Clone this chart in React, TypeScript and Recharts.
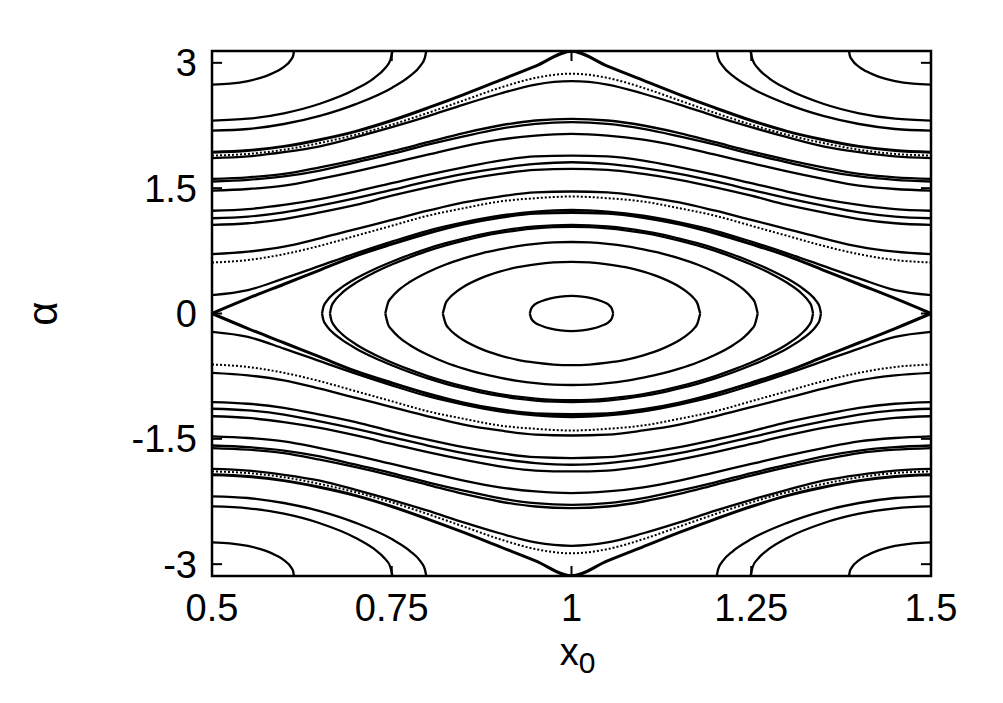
import React from "react";
import { LineChart, Line, XAxis, YAxis, ReferenceArea, ReferenceLine, Label } from "recharts";

// x0 grid shared by the open (rotating) curves
const xGrid = [0.5, 0.55, 0.6, 0.65, 0.7, 0.75, 0.8, 0.85, 0.9, 0.95, 1, 1.05, 1.1, 1.15, 1.2, 1.25, 1.3, 1.35, 1.4, 1.45, 1.5];

// alpha of each open curve, upper half
const upperCurves = [
  [0, 0.18, 0.35, 0.52, 0.69, 0.83, 0.96, 1.07, 1.15, 1.2, 1.21, 1.2, 1.15, 1.07, 0.96, 0.83, 0.69, 0.52, 0.35, 0.18, 0],
  [0.22, 0.28, 0.42, 0.57, 0.72, 0.86, 0.99, 1.09, 1.17, 1.22, 1.24, 1.22, 1.17, 1.09, 0.99, 0.86, 0.72, 0.57, 0.42, 0.28, 0.22],
  [0.61, 0.64, 0.71, 0.81, 0.93, 1.05, 1.17, 1.26, 1.34, 1.38, 1.4, 1.38, 1.34, 1.26, 1.17, 1.05, 0.93, 0.81, 0.71, 0.64, 0.61],
  [0.71, 0.74, 0.8, 0.9, 1.01, 1.12, 1.23, 1.33, 1.4, 1.45, 1.46, 1.45, 1.4, 1.33, 1.23, 1.12, 1.01, 0.9, 0.8, 0.74, 0.71],
  [1.06, 1.08, 1.13, 1.21, 1.3, 1.41, 1.51, 1.6, 1.67, 1.72, 1.73, 1.72, 1.67, 1.6, 1.51, 1.41, 1.3, 1.21, 1.13, 1.08, 1.06],
  [1.14, 1.16, 1.21, 1.29, 1.38, 1.48, 1.58, 1.67, 1.74, 1.79, 1.81, 1.79, 1.74, 1.67, 1.58, 1.48, 1.38, 1.29, 1.21, 1.16, 1.14],
  [1.23, 1.25, 1.3, 1.37, 1.46, 1.56, 1.66, 1.75, 1.83, 1.88, 1.89, 1.88, 1.83, 1.75, 1.66, 1.56, 1.46, 1.37, 1.3, 1.25, 1.23],
  [1.47, 1.49, 1.53, 1.61, 1.7, 1.8, 1.9, 2.0, 2.08, 2.13, 2.15, 2.13, 2.08, 2.0, 1.9, 1.8, 1.7, 1.61, 1.53, 1.49, 1.47],
  [1.58, 1.6, 1.64, 1.71, 1.81, 1.91, 2.02, 2.12, 2.21, 2.27, 2.29, 2.27, 2.21, 2.12, 2.02, 1.91, 1.81, 1.71, 1.64, 1.6, 1.58],
  [1.61, 1.63, 1.67, 1.75, 1.84, 1.94, 2.05, 2.16, 2.25, 2.31, 2.33, 2.31, 2.25, 2.16, 2.05, 1.94, 1.84, 1.75, 1.67, 1.63, 1.61],
  [1.86, 1.88, 1.93, 2.0, 2.11, 2.23, 2.36, 2.5, 2.63, 2.74, 2.78, 2.74, 2.63, 2.5, 2.36, 2.23, 2.11, 2.0, 1.93, 1.88, 1.86],
  [1.89, 1.91, 1.96, 2.04, 2.14, 2.26, 2.4, 2.55, 2.7, 2.82, 2.87, 2.82, 2.7, 2.55, 2.4, 2.26, 2.14, 2.04, 1.96, 1.91, 1.89],
  [1.93, 1.95, 2.0, 2.08, 2.18, 2.31, 2.46, 2.62, 2.79, 2.96, 3.14, 2.96, 2.79, 2.62, 2.46, 2.31, 2.18, 2.08, 2.0, 1.95, 1.93],
];

// same curves, lower half
const lowerCurves = [
  [0, -0.18, -0.35, -0.52, -0.69, -0.83, -0.96, -1.07, -1.15, -1.2, -1.21, -1.2, -1.15, -1.07, -0.96, -0.83, -0.69, -0.52, -0.35, -0.18, 0],
  [-0.22, -0.28, -0.42, -0.57, -0.72, -0.86, -0.99, -1.09, -1.17, -1.22, -1.24, -1.22, -1.17, -1.09, -0.99, -0.86, -0.72, -0.57, -0.42, -0.28, -0.22],
  [-0.61, -0.64, -0.71, -0.81, -0.93, -1.05, -1.17, -1.26, -1.34, -1.38, -1.4, -1.38, -1.34, -1.26, -1.17, -1.05, -0.93, -0.81, -0.71, -0.64, -0.61],
  [-0.71, -0.74, -0.8, -0.9, -1.01, -1.12, -1.23, -1.33, -1.4, -1.45, -1.46, -1.45, -1.4, -1.33, -1.23, -1.12, -1.01, -0.9, -0.8, -0.74, -0.71],
  [-1.06, -1.08, -1.13, -1.21, -1.3, -1.41, -1.51, -1.6, -1.67, -1.72, -1.73, -1.72, -1.67, -1.6, -1.51, -1.41, -1.3, -1.21, -1.13, -1.08, -1.06],
  [-1.14, -1.16, -1.21, -1.29, -1.38, -1.48, -1.58, -1.67, -1.74, -1.79, -1.81, -1.79, -1.74, -1.67, -1.58, -1.48, -1.38, -1.29, -1.21, -1.16, -1.14],
  [-1.23, -1.25, -1.3, -1.37, -1.46, -1.56, -1.66, -1.75, -1.83, -1.88, -1.89, -1.88, -1.83, -1.75, -1.66, -1.56, -1.46, -1.37, -1.3, -1.25, -1.23],
  [-1.47, -1.49, -1.53, -1.61, -1.7, -1.8, -1.9, -2.0, -2.08, -2.13, -2.15, -2.13, -2.08, -2.0, -1.9, -1.8, -1.7, -1.61, -1.53, -1.49, -1.47],
  [-1.58, -1.6, -1.64, -1.71, -1.81, -1.91, -2.02, -2.12, -2.21, -2.27, -2.29, -2.27, -2.21, -2.12, -2.02, -1.91, -1.81, -1.71, -1.64, -1.6, -1.58],
  [-1.61, -1.63, -1.67, -1.75, -1.84, -1.94, -2.05, -2.16, -2.25, -2.31, -2.33, -2.31, -2.25, -2.16, -2.05, -1.94, -1.84, -1.75, -1.67, -1.63, -1.61],
  [-1.86, -1.88, -1.93, -2.0, -2.11, -2.23, -2.36, -2.5, -2.63, -2.74, -2.78, -2.74, -2.63, -2.5, -2.36, -2.23, -2.11, -2.0, -1.93, -1.88, -1.86],
  [-1.89, -1.91, -1.96, -2.04, -2.14, -2.26, -2.4, -2.55, -2.7, -2.82, -2.87, -2.82, -2.7, -2.55, -2.4, -2.26, -2.14, -2.04, -1.96, -1.91, -1.89],
  [-1.93, -1.95, -2.0, -2.08, -2.18, -2.31, -2.46, -2.62, -2.79, -2.96, -3.14, -2.96, -2.79, -2.62, -2.46, -2.31, -2.18, -2.08, -2.0, -1.95, -1.93],
];

const dottedRows = [2, 11];
const boldRows = [0, 12];

// closed orbits around (1, 0): x0 values and upper / lower alpha
const ringAx = [0.942, 0.944, 0.949, 0.959, 0.971, 0.985, 1, 1.015, 1.029, 1.041, 1.051, 1.056, 1.058];
const ringAup = [0, 0.06, 0.108, 0.149, 0.182, 0.203, 0.21, 0.203, 0.182, 0.149, 0.108, 0.06, 0];
const ringAlow = [0, -0.06, -0.108, -0.149, -0.182, -0.203, -0.21, -0.203, -0.182, -0.149, -0.108, -0.06, 0];

const ringBx = [0.821, 0.825, 0.83, 0.84, 0.85, 0.875, 0.9, 0.925, 0.95, 0.975, 1, 1.025, 1.05, 1.075, 1.1, 1.125, 1.15, 1.16, 1.17, 1.175, 1.179];
const ringBup = [0, 0.123, 0.184, 0.262, 0.321, 0.427, 0.501, 0.555, 0.589, 0.611, 0.618, 0.611, 0.589, 0.555, 0.501, 0.427, 0.321, 0.262, 0.184, 0.123, 0];
const ringBlow = [0, -0.123, -0.184, -0.262, -0.321, -0.427, -0.501, -0.555, -0.589, -0.611, -0.618, -0.611, -0.589, -0.555, -0.501, -0.427, -0.321, -0.262, -0.184, -0.123, 0];

const ringCx = [0.741, 0.745, 0.75, 0.76, 0.775, 0.8, 0.825, 0.85, 0.875, 0.9, 0.925, 0.95, 0.975, 1, 1.025, 1.05, 1.075, 1.1, 1.125, 1.15, 1.175, 1.2, 1.225, 1.24, 1.25, 1.255, 1.259];
const ringCup = [0, 0.133, 0.195, 0.282, 0.376, 0.494, 0.586, 0.659, 0.72, 0.767, 0.807, 0.834, 0.851, 0.856, 0.851, 0.834, 0.807, 0.767, 0.72, 0.659, 0.586, 0.494, 0.376, 0.282, 0.195, 0.133, 0];
const ringClow = [0, -0.133, -0.195, -0.282, -0.376, -0.494, -0.586, -0.659, -0.72, -0.767, -0.807, -0.834, -0.851, -0.856, -0.851, -0.834, -0.807, -0.767, -0.72, -0.659, -0.586, -0.494, -0.376, -0.282, -0.195, -0.133, 0];

const ringDx = [0.664, 0.666, 0.67, 0.68, 0.7, 0.725, 0.75, 0.775, 0.8, 0.825, 0.85, 0.875, 0.9, 0.925, 0.95, 0.975, 1, 1.025, 1.05, 1.075, 1.1, 1.125, 1.15, 1.175, 1.2, 1.225, 1.25, 1.275, 1.3, 1.32, 1.33, 1.334, 1.336];
const ringDup = [0, 0.081, 0.144, 0.24, 0.367, 0.487, 0.586, 0.672, 0.749, 0.815, 0.873, 0.923, 0.964, 0.996, 1.019, 1.033, 1.038, 1.033, 1.019, 0.996, 0.964, 0.923, 0.873, 0.815, 0.749, 0.672, 0.586, 0.487, 0.367, 0.24, 0.144, 0.081, 0];
const ringDlow = [0, -0.081, -0.144, -0.24, -0.367, -0.487, -0.586, -0.672, -0.749, -0.815, -0.873, -0.923, -0.964, -0.996, -1.019, -1.033, -1.038, -1.033, -1.019, -0.996, -0.964, -0.923, -0.873, -0.815, -0.749, -0.672, -0.586, -0.487, -0.367, -0.24, -0.144, -0.081, 0];

const ringEx = [0.653, 0.655, 0.66, 0.67, 0.68, 0.7, 0.725, 0.75, 0.775, 0.8, 0.825, 0.85, 0.875, 0.9, 0.925, 0.95, 0.975, 1, 1.025, 1.05, 1.075, 1.1, 1.125, 1.15, 1.175, 1.2, 1.225, 1.25, 1.275, 1.3, 1.32, 1.33, 1.34, 1.345, 1.347];
const ringEup = [0, 0.081, 0.154, 0.243, 0.31, 0.418, 0.527, 0.62, 0.703, 0.777, 0.841, 0.897, 0.947, 0.987, 1.018, 1.041, 1.055, 1.06, 1.055, 1.041, 1.018, 0.987, 0.947, 0.897, 0.841, 0.777, 0.703, 0.62, 0.527, 0.418, 0.31, 0.243, 0.154, 0.081, 0];
const ringElow = [0, -0.081, -0.154, -0.243, -0.31, -0.418, -0.527, -0.62, -0.703, -0.777, -0.841, -0.897, -0.947, -0.987, -1.018, -1.041, -1.055, -1.06, -1.055, -1.041, -1.018, -0.987, -0.947, -0.897, -0.841, -0.777, -0.703, -0.62, -0.527, -0.418, -0.31, -0.243, -0.154, -0.081, 0];

// orbits around the corners (0.5, ±pi) and (1.5, ±pi)
const arc1xL = [0.5, 0.525, 0.55, 0.575, 0.59, 0.6, 0.61, 0.613, 0.614];
const arc1upL = [2.739, 2.75, 2.782, 2.841, 2.898, 2.952, 3.038, 3.089, 3.142];
const arc1lowL = [-2.739, -2.75, -2.782, -2.841, -2.898, -2.952, -3.038, -3.089, -3.142];
const arc1xR = [1.386, 1.387, 1.39, 1.4, 1.41, 1.425, 1.45, 1.475, 1.5];
const arc1upR = [3.142, 3.089, 3.038, 2.952, 2.898, 2.841, 2.782, 2.75, 2.739];
const arc1lowR = [-3.142, -3.089, -3.038, -2.952, -2.898, -2.841, -2.782, -2.75, -2.739];

const arc2xL = [0.5, 0.55, 0.6, 0.65, 0.7, 0.725, 0.74, 0.748, 0.751];
const arc2upL = [2.309, 2.331, 2.396, 2.51, 2.686, 2.815, 2.93, 3.031, 3.142];
const arc2lowL = [-2.309, -2.331, -2.396, -2.51, -2.686, -2.815, -2.93, -3.031, -3.142];
const arc2xR = [1.249, 1.252, 1.26, 1.275, 1.3, 1.35, 1.4, 1.45, 1.5];
const arc2upR = [3.142, 3.031, 2.93, 2.815, 2.686, 2.51, 2.396, 2.331, 2.309];
const arc2lowR = [-3.142, -3.031, -2.93, -2.815, -2.686, -2.51, -2.396, -2.331, -2.309];

const arc3xL = [0.5, 0.55, 0.6, 0.65, 0.7, 0.75, 0.775, 0.79, 0.796, 0.798];
const arc3upL = [2.188, 2.208, 2.268, 2.365, 2.506, 2.7, 2.84, 2.967, 3.059, 3.142];
const arc3lowL = [-2.188, -2.208, -2.268, -2.365, -2.506, -2.7, -2.84, -2.967, -3.059, -3.142];
const arc3xR = [1.202, 1.204, 1.21, 1.225, 1.25, 1.3, 1.35, 1.4, 1.45, 1.5];
const arc3upR = [3.142, 3.059, 2.967, 2.84, 2.7, 2.506, 2.365, 2.268, 2.208, 2.188];
const arc3lowR = [-3.142, -3.059, -2.967, -2.84, -2.7, -2.506, -2.365, -2.268, -2.208, -2.188];

const xTicks = [0.5, 0.75, 1, 1.25, 1.5];
const yTicks = [-3, -1.5, 0, 1.5, 3];

type Pt = { x: number; a: number };
type Series = { key: string; data: Pt[]; dotted?: boolean; bold?: boolean };

const pts = (xs: number[], as: number[]): Pt[] => xs.map((x, i) => ({ x, a: as[i] }));

const series: Series[] = [];
upperCurves.forEach((row, i) =>
  series.push({ key: `u${i}`, data: pts(xGrid, row), dotted: dottedRows.includes(i), bold: boldRows.includes(i) })
);
lowerCurves.forEach((row, i) =>
  series.push({ key: `l${i}`, data: pts(xGrid, row), dotted: dottedRows.includes(i), bold: boldRows.includes(i) })
);
[
  [ringAx, ringAup, ringAlow],
  [ringBx, ringBup, ringBlow],
  [ringCx, ringCup, ringClow],
  [ringDx, ringDup, ringDlow],
  [ringEx, ringEup, ringElow],
].forEach(([xs, up, low], i) => {
  series.push({ key: `ru${i}`, data: pts(xs, up) });
  series.push({ key: `rl${i}`, data: pts(xs, low) });
});
[
  [arc1xL, arc1upL, arc1lowL, arc1xR, arc1upR, arc1lowR],
  [arc2xL, arc2upL, arc2lowL, arc2xR, arc2upR, arc2lowR],
  [arc3xL, arc3upL, arc3lowL, arc3xR, arc3upR, arc3lowR],
].forEach(([xl, ul, ll, xr, ur, lr], i) => {
  series.push({ key: `cul${i}`, data: pts(xl, ul) });
  series.push({ key: `cll${i}`, data: pts(xl, ll) });
  series.push({ key: `cur${i}`, data: pts(xr, ur) });
  series.push({ key: `clr${i}`, data: pts(xr, lr) });
});

const FONT = "'Liberation Sans', Arial, Helvetica, sans-serif";

const XTitle = (props: any) => {
  const { viewBox } = props;
  const cx = viewBox.x + viewBox.width / 2;
  return (
    <text x={cx + 6} y={viewBox.y + 89} textAnchor="middle" fontSize={38} fontFamily={FONT} fill="#000">
      x<tspan fontSize={30} dy={8}>0</tspan>
    </text>
  );
};

const YTitle = (props: any) => {
  const { viewBox } = props;
  const cx = viewBox.x - 90;
  const cy = viewBox.y + viewBox.height / 2;
  return (
    <text
      x={cx}
      y={cy}
      textAnchor="middle"
      dominantBaseline="central"
      fontSize={42}
      fontFamily={FONT}
      fill="#000"
      transform={`rotate(-90 ${cx} ${cy})`}
    >
      α
    </text>
  );
};

export default function App() {
  const PI = Math.PI;
  return (
    <div style={{ position: "absolute", left: 0, top: 0, background: "#fff" }}>
      <LineChart width={1003} height={703} margin={{ top: 51, right: 72, bottom: 67, left: 132 }}>
        <XAxis
          type="number"
          dataKey="x"
          domain={[0.5, 1.5]}
          ticks={xTicks}
          allowDataOverflow
          axisLine={false}
          tickLine={false}
          tickSize={6}
          tickMargin={12}
          height={60}
          tick={{ fill: "#000", fontSize: 38, fontFamily: FONT }}
        >
          <Label content={XTitle} />
        </XAxis>
        <YAxis
          type="number"
          dataKey="a"
          domain={[-PI, PI]}
          ticks={yTicks}
          allowDataOverflow
          axisLine={false}
          tickLine={false}
          tickSize={6}
          tickMargin={9}
          width={80}
          tick={{ fill: "#000", fontSize: 38, fontFamily: FONT }}
        >
          <Label content={YTitle} />
        </YAxis>
        {series.map((s) => (
          <Line
            key={s.key}
            data={s.data}
            dataKey="a"
            type="monotone"
            stroke="#000"
            strokeWidth={s.dotted ? 2 : s.bold ? 3 : 2.3}
            strokeDasharray={s.dotted ? "2 2" : undefined}
            dot={false}
            activeDot={false}
            isAnimationActive={false}
          />
        ))}
        {yTicks.map((t) => (
          <ReferenceLine key={`yl${t}`} segment={[{ x: 0.5, y: t }, { x: 0.514, y: t }]} stroke="#000" strokeWidth={2} />
        ))}
        {yTicks.map((t) => (
          <ReferenceLine key={`yr${t}`} segment={[{ x: 1.486, y: t }, { x: 1.5, y: t }]} stroke="#000" strokeWidth={2} />
        ))}
        {xTicks.map((t) => (
          <ReferenceLine key={`xb${t}`} segment={[{ x: t, y: -PI }, { x: t, y: -PI + 0.12 }]} stroke="#000" strokeWidth={2} />
        ))}
        {xTicks.map((t) => (
          <ReferenceLine key={`xt${t}`} segment={[{ x: t, y: PI - 0.12 }, { x: t, y: PI }]} stroke="#000" strokeWidth={2} />
        ))}
        <ReferenceArea x1={0.5} x2={1.5} y1={-PI} y2={PI} fill="none" stroke="#000" strokeWidth={2.5} />
      </LineChart>
    </div>
  );
}
